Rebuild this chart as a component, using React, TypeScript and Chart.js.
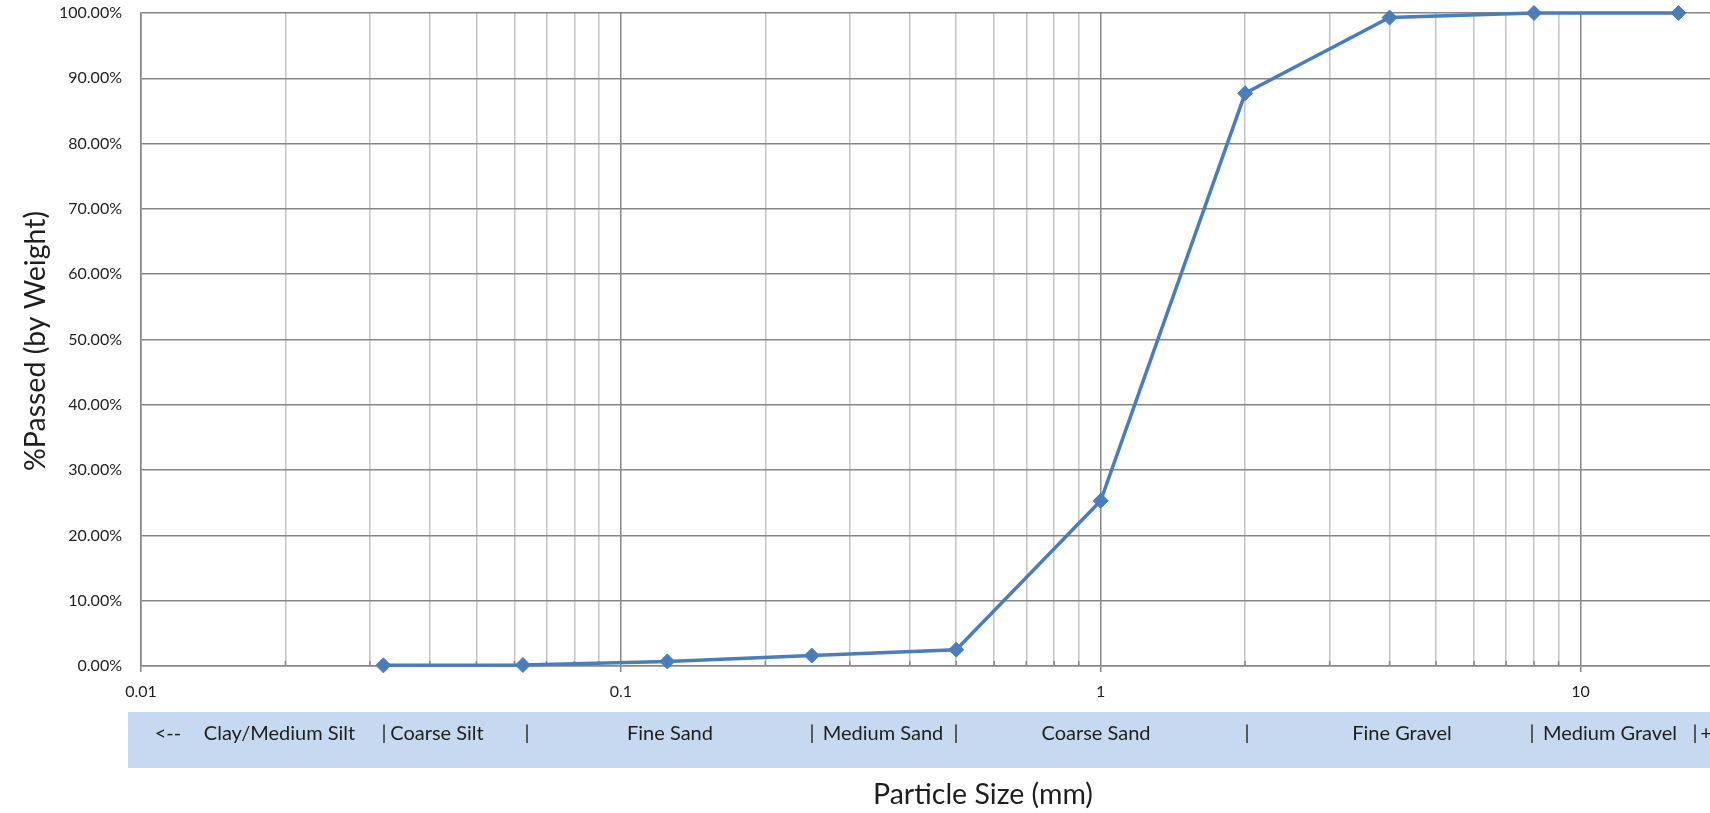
import React, { useEffect, useRef } from 'react';
import { Chart, registerables } from 'chart.js';

Chart.register(...registerables);

// ---- data ----
const particleSizes = [0.032, 0.0625, 0.125, 0.25, 0.5, 1, 2, 4, 8, 16];
const percentPassed = [0.1, 0.15, 0.7, 1.6, 2.5, 25.3, 87.7, 99.3, 100, 100];
const xTickValues = [0.01, 0.1, 1, 10];
const xTickLabels = ['0.01', '0.1', '1', '10'];
const yTickValues = [0, 10, 20, 30, 40, 50, 60, 70, 80, 90, 100];
const bandLabels = [
  '<--', 'Clay/Medium Silt', '|', 'Coarse Silt', '|', 'Fine Sand', '|',
  'Medium Sand', '|', 'Coarse Sand', '|', 'Fine Gravel', '|', 'Medium Gravel', '|', '+',
];
const xAxisTitle = 'Particle Size (mm)';
const yAxisTitle = '%Passed (by Weight)';

// gridline positions: 1..9 within each decade, up to 10
const gridValues: number[] = [];
[0.01, 0.1, 1].forEach((d) => {
  for (let m = 1; m <= 9; m++) gridValues.push(+(d * m).toPrecision(6));
});
gridValues.push(10);

const isDecade = (v: number) => xTickValues.some((t) => Math.abs(t - v) / t < 1e-6);

const FONT = 'Lato, Carlito, "Open Sans", sans-serif';
const MAJOR = '#878787';
const MINOR = '#c4c4c4';
const TEXT = '#1e1e1e';

// layout (canvas pixels)
const bandX = [168, 279.5, 384, 437, 527, 670, 812, 883, 956, 1096, 1247, 1402, 1532, 1610, 1695, 1706];

const decorPlugin = {
  id: 'decor',
  beforeDatasetsDraw(chart: any) {
    const ctx = chart.ctx;
    const xs = chart.scales.x;
    const bottom = chart.chartArea.bottom;
    ctx.save();
    ctx.strokeStyle = MAJOR;
    ctx.lineWidth = 1.5;
    gridValues.forEach((v) => {
      if (isDecade(v)) return;
      const px = xs.getPixelForValue(v);
      ctx.beginPath();
      ctx.moveTo(px, bottom - 5);
      ctx.lineTo(px, bottom);
      ctx.stroke();
    });
    ctx.restore();
  },
  afterDraw(chart: any) {
    const ctx = chart.ctx;
    const w = chart.width;
    ctx.save();
    // band
    ctx.fillStyle = '#c6d9f1';
    ctx.fillRect(128, 712, w - 128, 56);
    ctx.fillStyle = TEXT;
    ctx.font = `20px ${FONT}`;
    ctx.textAlign = 'center';
    ctx.textBaseline = 'alphabetic';
    bandLabels.forEach((t, i) => {
      ctx.fillText(t, bandX[i], 740);
    });
    // x title
    ctx.font = `28.5px ${FONT}`;
    ctx.textBaseline = 'middle';
    ctx.fillText(xAxisTitle, 983, 795);
    // y title
    ctx.translate(36, 341);
    ctx.rotate(-Math.PI / 2);
    ctx.fillText(yAxisTitle, 0, 0);
    ctx.restore();
  },
};

export default function App() {
  const ref = useRef<HTMLCanvasElement | null>(null);

  useEffect(() => {
    if (!ref.current) return;
    const chart = new Chart(ref.current, {
      type: 'line',
      data: {
        datasets: [
          {
            data: particleSizes.map((x, i) => ({ x, y: percentPassed[i] })),
            borderColor: '#4a7ebb',
            backgroundColor: '#4a7ebb',
            borderWidth: 3.5,
            tension: 0,
            pointStyle: 'rectRot',
            pointRadius: 7.5,
            pointBorderWidth: 1,
            pointBackgroundColor: '#4a7ebb',
            pointBorderColor: '#4a7ebb',
            clip: false as any,
          },
        ],
      },
      options: {
        animation: false,
        responsive: false,
        layout: { padding: { top: 13, left: 0, right: 0, bottom: 0 } },
        plugins: { legend: { display: false }, tooltip: { enabled: false } },
        scales: {
          x: {
            type: 'logarithmic',
            bounds: 'data',
            min: 0.01,
            max: 18.66,
            afterBuildTicks: (scale: any) => {
              scale.ticks = gridValues.map((v) => ({ value: v, major: isDecade(v) }));
            },
            afterFit: (scale: any) => {
              scale.height = 147;
              scale.paddingLeft = 0;
              scale.paddingRight = 0;
            },
            ticks: {
              autoSkip: false,
              maxRotation: 0,
              padding: 10,
              color: TEXT,
              font: { family: FONT, size: 16 },
              callback: (v: any) => {
                const i = xTickValues.findIndex((t) => Math.abs(t - v) / t < 1e-6);
                return i >= 0 ? xTickLabels[i] : '';
              },
            },
            grid: {
              color: (c: any) => (c.tick && isDecade(c.tick.value) ? MAJOR : MINOR),
              lineWidth: 1.5,
              tickLength: 6,
              tickColor: (c: any) => (c.tick && isDecade(c.tick.value) ? MAJOR : 'rgba(0,0,0,0)'),
            },
            border: { color: MAJOR, width: 1.5 },
          },
          y: {
            type: 'linear',
            min: 0,
            max: 100,
            afterBuildTicks: (scale: any) => {
              scale.ticks = yTickValues.map((v) => ({ value: v }));
            },
            afterFit: (scale: any) => {
              scale.width = 141;
              scale.paddingTop = 0;
              scale.paddingBottom = 0;
            },
            ticks: {
              padding: 19,
              color: TEXT,
              font: { family: FONT, size: 16 },
              callback: (v: any) => Number(v).toFixed(2) + '%',
            },
            grid: { color: MAJOR, lineWidth: 1.5, drawTicks: false },
            border: { color: MAJOR, width: 1.5 },
          },
        },
      } as any,
      plugins: [decorPlugin],
    });
    return () => chart.destroy();
  }, []);

  return (
    <div
      style={{
        position: 'fixed',
        left: 0,
        top: 0,
        width: 1710,
        height: 813,
        overflow: 'hidden',
        background: '#fff',
      }}
    >
      <canvas ref={ref} width={1719} height={813} style={{ display: 'block' }} />
    </div>
  );
}
